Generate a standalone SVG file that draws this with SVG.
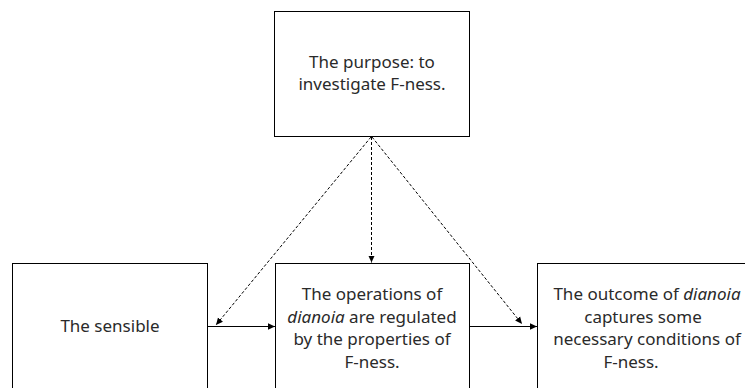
<svg xmlns="http://www.w3.org/2000/svg" width="745" height="388" viewBox="0 0 745 388">
<style>
.box{fill:#fff;stroke:#000;stroke-width:1}
.t{font-family:"Noto Sans","DejaVu Sans",sans-serif;font-size:17px;fill:#2a2a2a;text-anchor:middle}
.c{stroke:#000;stroke-width:1;fill:none}
.d{stroke-dasharray:3,2}
</style>
<defs>
<marker id="ah" markerWidth="8" markerHeight="8" refX="7" refY="4" orient="auto" markerUnits="userSpaceOnUse">
<path d="M0,0.8 L7,4 L0,7.2 Z" fill="#000"/>
</marker>
</defs>
<rect width="745" height="388" fill="#fff"/>
<g id="purpose">
<rect class="box" x="274.5" y="11.5" width="195" height="125"/>
<text class="t" x="372" y="68">The purpose: to</text>
<text class="t" x="372" y="90">investigate F-ness.</text>
</g>
<g id="sensible">
<rect class="box" x="12.5" y="263.5" width="195" height="140"/>
<text class="t" x="110" y="332">The sensible</text>
</g>
<g id="operations">
<rect class="box" x="275.5" y="263.5" width="194" height="140"/>
<text class="t" x="372" y="300">The operations of</text>
<text class="t" x="372" y="322.5"><tspan font-style="italic">dianoia</tspan> are regulated</text>
<text class="t" x="372" y="345">by the properties of</text>
<text class="t" x="372" y="367.5">F-ness.</text>
</g>
<g id="outcome">
<rect class="box" x="537.5" y="263.5" width="215" height="140"/>
<text class="t" x="647" y="300">The outcome of <tspan font-style="italic">dianoia</tspan></text>
<text class="t" x="643" y="322.5">captures some</text>
<text class="t" x="647" y="345">necessary conditions of</text>
<text class="t" x="631" y="367.5">F-ness.</text>
</g>
<g id="connectors">
<line class="c d" x1="371.5" y1="137" x2="371.5" y2="262.5" marker-end="url(#ah)"/>
<line class="c d" x1="371" y1="137" x2="216" y2="325" marker-end="url(#ah)"/>
<line class="c d" x1="372" y1="137" x2="522" y2="324" marker-end="url(#ah)"/>
<line class="c" x1="207.5" y1="326.5" x2="275" y2="326.5" marker-end="url(#ah)"/>
<line class="c" x1="469.5" y1="326.5" x2="537" y2="326.5" marker-end="url(#ah)"/>
</g>
</svg>
